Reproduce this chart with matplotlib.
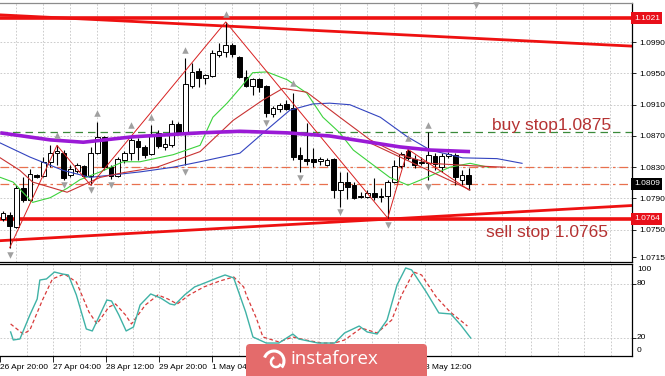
import matplotlib
matplotlib.use("Agg")
import matplotlib.pyplot as plt
import matplotlib.transforms as mtransforms
from matplotlib.patches import Rectangle, FancyBboxPatch, Arc

plt.rcParams['font.family'] = ['Liberation Sans', 'DejaVu Sans']

# ---- H4 candles (EURUSD) ----
opens = [1.0764, 1.0769, 1.0754, 1.0803, 1.0788, 1.0820, 1.0819, 1.0837, 1.0848, 1.0848,
         1.0820, 1.0825, 1.0832, 1.0819, 1.0848, 1.0869, 1.0830, 1.0819, 1.0839, 1.0848,
         1.0864, 1.0856, 1.0847, 1.0874, 1.0856, 1.0858, 1.0885, 1.0874, 1.0934, 1.0953,
         1.0944, 1.0947, 1.0974, 1.0977, 1.0986, 1.0971, 1.0945, 1.0934, 1.0943, 1.0934,
         1.0898, 1.0905, 1.0911, 1.0906, 1.0846, 1.0841, 1.0841, 1.0838, 1.0833, 1.0841,
         1.0801, 1.0811, 1.0807, 1.0793, 1.0792, 1.0797, 1.0793, 1.0793, 1.0811, 1.0832,
         1.0851, 1.0841, 1.0836, 1.0836, 1.0844, 1.0830, 1.0844, 1.0846, 1.0814, 1.0820]
highs = [1.0774, 1.0773, 1.0807, 1.0817, 1.0828, 1.0821, 1.0843, 1.0858, 1.0858, 1.0852,
         1.0833, 1.0835, 1.0833, 1.0856, 1.0888, 1.0870, 1.0833, 1.0843, 1.0851, 1.0869,
         1.0867, 1.0858, 1.0884, 1.0878, 1.0867, 1.0890, 1.0888, 1.0970, 1.0963, 1.0957,
         1.0949, 1.0980, 1.0989, 1.1016, 1.0989, 1.0972, 1.0954, 1.0944, 1.0944, 1.0935,
         1.0908, 1.0912, 1.0916, 1.0925, 1.0856, 1.0887, 1.0855, 1.0843, 1.0842, 1.0842,
         1.0824, 1.0824, 1.0811, 1.0798, 1.0801, 1.0816, 1.0803, 1.0814, 1.0839, 1.0850,
         1.0853, 1.0846, 1.0843, 1.0875, 1.0848, 1.0848, 1.0850, 1.0848, 1.0826, 1.0829]
lows = [1.0761, 1.0727, 1.0752, 1.0785, 1.0787, 1.0816, 1.0817, 1.0830, 1.0833, 1.0814,
        1.0817, 1.0823, 1.0816, 1.0807, 1.0847, 1.0826, 1.0815, 1.0817, 1.0835, 1.0839,
        1.0839, 1.0842, 1.0846, 1.0855, 1.0852, 1.0856, 1.0872, 1.0833, 1.0931, 1.0933,
        1.0937, 1.0945, 1.0971, 1.0971, 1.0971, 1.0944, 1.0933, 1.0922, 1.0926, 1.0894,
        1.0894, 1.0901, 1.0903, 1.0839, 1.0824, 1.0833, 1.0830, 1.0833, 1.0832, 1.0791,
        1.0779, 1.0789, 1.0789, 1.0791, 1.0791, 1.0788, 1.0785, 1.0765, 1.0810, 1.0829,
        1.0839, 1.0829, 1.0833, 1.0814, 1.0826, 1.0824, 1.0842, 1.0807, 1.0807, 1.0801]
closes = [1.0771, 1.0755, 1.0803, 1.0788, 1.0821, 1.0817, 1.0837, 1.0848, 1.0851, 1.0816,
          1.0828, 1.0833, 1.0819, 1.0848, 1.0869, 1.0830, 1.0819, 1.0841, 1.0848, 1.0865,
          1.0856, 1.0846, 1.0873, 1.0857, 1.0860, 1.0885, 1.0874, 1.0937, 1.0952, 1.0944,
          1.0948, 1.0976, 1.0979, 1.0986, 1.0975, 1.0945, 1.0934, 1.0943, 1.0933, 1.0899,
          1.0906, 1.0910, 1.0905, 1.0843, 1.0841, 1.0838, 1.0837, 1.0841, 1.0839, 1.0801,
          1.0811, 1.0805, 1.0791, 1.0792, 1.0797, 1.0792, 1.0792, 1.0811, 1.0832, 1.0847,
          1.0842, 1.0833, 1.0837, 1.0846, 1.0834, 1.0844, 1.0847, 1.0817, 1.0820, 1.0809]

# ---- moving averages (bar position, price) ----
ma_purple_x = [-0.4, 7.0, 11.9, 19.3, 29.2, 35.1, 42.1, 48.4, 58.8, 63.3, 69.2]
ma_purple_y = [1.0874, 1.0865, 1.0862, 1.0869, 1.0874, 1.0876, 1.0874, 1.0870, 1.0856, 1.0852, 1.0850]
ma_blue_x = [-0.4, 4.0, 8.9, 12.9, 20.3, 25.2, 29.2, 35.1, 39.1, 42.5, 45.9, 48.4, 51.4,
             55.9, 59.9, 63.3, 68.1, 73.2, 76.9]
ma_blue_y = [1.0861, 1.0843, 1.0826, 1.0817, 1.0824, 1.0830, 1.0837, 1.0848, 1.0878, 1.0903,
             1.0911, 1.0912, 1.0910, 1.0894, 1.0869, 1.0852, 1.0842, 1.0841, 1.0835]
ma_green_x = [-0.4, 1.5, 3.6, 4.4, 7.0, 9.5, 11.4, 14.4, 17.8, 20.3, 25.2, 29.2, 31.1, 33.2,
              35.1, 37.0, 39.1, 42.1, 45.0, 47.4, 49.9, 51.9, 53.9, 57.3, 60.0, 62.8, 66.2,
              69.2, 71.9]
ma_green_y = [1.0817, 1.0811, 1.0792, 1.0785, 1.0791, 1.0803, 1.0814, 1.0824, 1.0837, 1.0837,
              1.0846, 1.0858, 1.0894, 1.0912, 1.0931, 1.0951, 1.0952, 1.0942, 1.0925, 1.0894,
              1.0874, 1.0852, 1.0839, 1.0817, 1.0807, 1.0817, 1.0830, 1.0835, 1.0830]
ma_red_x = [-0.4, 2.5, 4.4, 9.5, 14.4, 17.8, 22.8, 29.2, 34.1, 38.5, 41.5, 45.0, 49.9, 54.4,
            58.8, 63.3, 69.2, 74.4]
ma_red_y = [1.0842, 1.0826, 1.0811, 1.0798, 1.0817, 1.0823, 1.0830, 1.0850, 1.0890, 1.0916,
            1.0931, 1.0926, 1.0894, 1.0865, 1.0846, 1.0835, 1.0832, 1.0830]
red_seg_x = [54.4, 69.2]
red_seg_y = [1.0861, 1.0801]

# ---- zigzag and fractal markers ----
zigzag_x = [1, 8, 13, 33, 57, 60, 69]
zigzag_y = [1.0727, 1.0858, 1.0807, 1.1016, 1.0765, 1.0853, 1.0801]
frac_up_x = [8, 14, 19, 22, 27, 33, 43, 60, 63]
frac_up_y = [1.0871, 1.0899, 1.0884, 1.0894, 1.0980, 1.1026, 1.0938, 1.0867, 1.0884]
frac_dn_x = [1, 9, 13, 16, 27, 39, 44, 50, 57, 63, 70.1]
frac_dn_y = [1.0718, 1.0807, 1.0801, 1.0807, 1.0824, 1.0887, 1.0816, 1.0773, 1.0756, 1.0805, 1.1038]

# ---- levels and trend lines ----
resist_x, resist_y = [-0.4, 93.2], [1.1025, 1.0985]
support_x, support_y = [-0.4, 93.2], [1.0736, 1.0781]
red_levels = [1.1021, 1.0764]
buy_level = 1.0875
dash_levels = [1.0830, 1.0809]
box_levels = [1.1021, 1.0809, 1.0764]
box_colors = ['#e8101a', 'black', '#e8101a']
price_ticks = [1.0990, 1.0950, 1.0910, 1.0870, 1.0830, 1.0790, 1.0750, 1.0715]

# ---- stochastic ----
stoch_main_x = [-0.4, 0, 1.0, 2.5, 3.6, 4.0, 5.0, 6.2, 7.4, 8.3, 9.5, 11.0, 11.9, 14.1, 14.8,
                15.9, 17.0, 18.1, 19.1, 20.7, 22.2, 23.6, 24.3, 25.8, 27.3, 29.2, 30.7, 31.9,
                33.2, 34.1, 35.0, 36.1, 38.1, 40.0, 42.1, 43.0, 45.9, 48.4, 49.9, 52.1, 53.3,
                54.8, 56.3, 57.8, 59.1, 60.0, 62.2, 64.1, 65.9, 67.4, 68.9]
stoch_main_y = [26.7, 17.8, 18.9, 45.6, 63.3, 84.4, 85.6, 93.3, 91.1, 90, 67.8, 30, 27.8, 62.2,
                61.1, 45.6, 27.8, 32.2, 56.7, 68.9, 64.4, 57.8, 56.7, 67.8, 76.7, 82.2, 86.7,
                90, 86.7, 67.8, 48.9, 21.1, 14.4, 14.4, 24.4, 18.9, 14.4, 14.4, 25.6, 33.3,
                26.7, 24.4, 40, 78.9, 97.8, 95.6, 71.1, 47.8, 46.7, 34.4, 20]
stoch_sig_x = [-0.4, 1.5, 2.5, 4.4, 5.9, 7.7, 9.5, 11.4, 12.6, 14.4, 15.4, 16.9, 17.8, 19.9,
               21.8, 23.3, 24.7, 26.5, 28.7, 31.1, 33.2, 34.7, 35.1, 36.6, 37.6, 40.0, 42.1,
               44.0, 46.5, 48.4, 49.9, 52.4, 54.8, 57.0, 58.5, 60.3, 61.5, 63.7, 65.8, 68.4]
stoch_sig_y = [35.6, 24.4, 28.9, 62.2, 85.6, 91.1, 82.2, 48.9, 35.6, 54.4, 57.8, 45.6, 35.6,
               56.7, 67.8, 63.3, 57.8, 67.8, 76.7, 83.3, 87.8, 76.7, 67.8, 42.2, 21.1, 15.6,
               21.1, 17.8, 14.4, 14.4, 17.8, 31.1, 25.6, 40, 67.8, 93.3, 90, 65.6, 48.9, 33.3]

# time axis (labels under the badge are hidden in the original)
time_bars = [-2, 6, 14, 22, 30, 38, 46, 54, 62]
time_labels = ['26 Apr 20:00', '27 Apr 04:00', '28 Apr 12:00', '29 Apr 20:00', '1 May 04:00',
               '', '', '', '8 May 12:00']

W, H = 665, 376
fig = plt.figure(figsize=(W / 100, H / 100), dpi=100)


def box(x0, y0, x1, y1):
    return [x0 / W, 1 - y1 / H, (x1 - x0) / W, (y1 - y0) / H]


ax = fig.add_axes(box(0, 3, 632, 262))
ax2 = fig.add_axes(box(0, 264, 632, 356))
XL = (-0.44, 93.19)

# grid
grid_kw = dict(color='#c4c4c4', lw=0.6, dashes=(2, 2), zorder=0)
for a in (ax, ax2):
    for gx in range(2, 94, 4):
        a.axvline(gx, **grid_kw)
for p in price_ticks[:-1]:
    ax.axhline(p, **grid_kw)
for v in (20, 80):
    ax2.axhline(v, **grid_kw)

# levels / trend lines
for lv in red_levels:
    ax.axhline(lv, color='#ee1111', lw=2.6, zorder=2)
ax.plot(resist_x, resist_y, color='#ee1111', lw=2.0, zorder=2)
ax.plot(support_x, support_y, color='#ee1111', lw=2.0, zorder=2)
ax.axhline(buy_level, color='#3a8a3a', lw=0.9, dashes=(6, 4), zorder=2)
for lv in dash_levels:
    ax.axhline(lv, color='#e8704e', lw=0.9, dashes=(7, 3, 2, 3), zorder=2)

# candles
for i, (o, h, l, c) in enumerate(zip(opens, highs, lows, closes)):
    ax.vlines(i, l, h, color='black', lw=0.8, zorder=4)
    fc = 'white' if c >= o else 'black'
    ax.add_patch(Rectangle((i - 0.36, min(o, c)), 0.72, max(abs(c - o), 0.00005),
                           facecolor=fc, edgecolor='black', lw=0.7, zorder=5))

# indicators
ax.plot(ma_green_x, ma_green_y, color='#3cd23c', lw=0.8, zorder=6)
ax.plot(ma_blue_x, ma_blue_y, color='#3344c0', lw=0.8, zorder=6)
ax.plot(ma_red_x, ma_red_y, color='#c83232', lw=0.8, zorder=6)
ax.plot(red_seg_x, red_seg_y, color='#c83232', lw=0.8, zorder=6)
ax.plot(zigzag_x, zigzag_y, color='#d82020', lw=0.7, zorder=6)
ax.plot(ma_purple_x, ma_purple_y, color='#9a1ad6', lw=2.6, zorder=7, solid_capstyle='butt')
ax.scatter(frac_up_x, frac_up_y, marker='^', s=22, color='#a0a0a0', zorder=8, linewidths=0)
ax.scatter(frac_dn_x, frac_dn_y, marker='v', s=22, color='#a0a0a0', zorder=8, linewidths=0,
           clip_on=False)

ax.text(72.4, 1.0883, 'buy stop1.0875', color='#b53232', fontsize=12.5, va='center', ha='left')
ax.text(71.6, 1.0746, 'sell stop 1.0765', color='#b53232', fontsize=12.5, va='center', ha='left')

ax.set_xlim(*XL)
ax.set_ylim(1.07087, 1.10402)
ax.yaxis.tick_right()
ax.set_yticks(price_ticks)
ax.set_yticklabels([f'{p:.4f}' for p in price_ticks])
ax.tick_params(axis='y', labelsize=6, length=3, pad=2, width=0.6)
ax.set_xticks([])

trans = mtransforms.blended_transform_factory(ax.transAxes, ax.transData)
for lv, bg in zip(box_levels, box_colors):
    ax.text(1.003, lv, f'{lv:.4f}', transform=trans, fontsize=6, color='white', va='center',
            ha='left', zorder=10, clip_on=False,
            bbox=dict(boxstyle='square,pad=0.3', fc=bg, ec='none'))

# stochastic panel
ax2.plot(stoch_sig_x, stoch_sig_y, color='#d83a3a', lw=0.9, dashes=(3, 2), zorder=3)
ax2.plot(stoch_main_x, stoch_main_y, color='#3fb2a6', lw=1.0, zorder=4)
ax2.set_xlim(*XL)
ax2.set_ylim(0, 102.2)
ax2.yaxis.tick_right()
ax2.set_yticks([20, 80])
ax2.set_yticklabels([])
ax2.tick_params(axis='y', length=3, width=0.6)
trans2 = mtransforms.blended_transform_factory(ax2.transAxes, ax2.transData)
for val, txt in zip([96, 80, 20, 6.5], ['100', '80', '20', '0']):
    ax2.text(1.008, val, txt, transform=trans2, fontsize=6, va='center', ha='left', clip_on=False)
ax2.set_xticks(time_bars)
ax2.set_xticklabels(time_labels, ha='left')
ax2.tick_params(axis='x', labelsize=6, length=4, pad=1.5, width=0.6)

for a in (ax, ax2):
    a.spines['left'].set_visible(False)
    for s in ('right', 'bottom', 'top'):
        a.spines[s].set_linewidth(0.9)
ax.spines['top'].set_color('#8c8c8c')

# instaforex badge on top
ov = fig.add_axes([0, 0, 1, 1], zorder=20)
ov.set_xlim(0, W)
ov.set_ylim(H, 0)
ov.axis('off')
ov.patch.set_alpha(0)
ov.add_patch(FancyBboxPatch((246, 344), 181, 40, boxstyle='round,pad=0,rounding_size=4',
                            fc='#e46b6b', ec='none'))
ov.add_patch(Arc((274, 361), 20, 20, theta1=200, theta2=40, color='white', lw=2.2))
ov.add_patch(Arc((276, 362), 10, 10, theta1=20, theta2=250, color='white', lw=1.8))
ov.text(290, 359, 'instaforex', color='white', fontsize=13.5, va='center', ha='left',
        family=['Open Sans', 'DejaVu Sans'])

fig.savefig('out.png', dpi=100)
